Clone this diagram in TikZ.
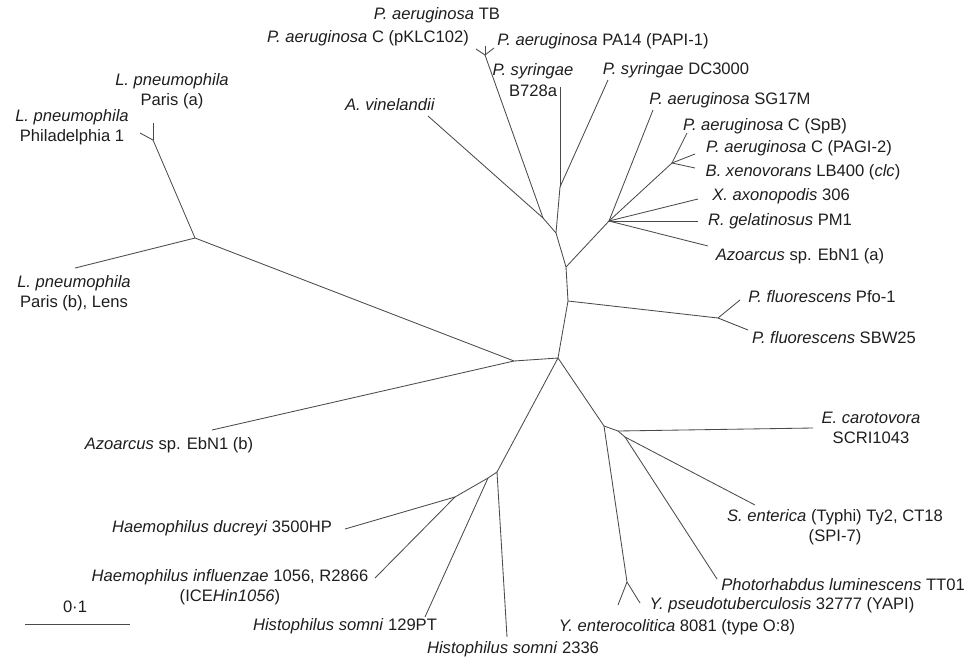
\documentclass[tikz,border=0pt]{standalone}
\usepackage{fontspec}
\setmainfont{Liberation Sans}
\usepackage{tikz}
\usetikzlibrary{positioning}
\definecolor{TreeInk}{HTML}{1E1E1E}
\definecolor{TreeLine}{HTML}{4A4A4A}

\begin{document}
\begin{tikzpicture}[
  x=0.025cm,y=-0.025cm,
  taxon/.style={text=TreeInk,align=center,inner sep=0pt,
    font=\fontsize{11.8}{14.6}\selectfont},
  branch/.style={draw=TreeLine,line width=0.6pt,line join=round}
]
\useasboundingbox (0,0) rectangle (967,659);

% inner nodes of the tree
\coordinate (jC) at (558,358);
\coordinate (jF) at (568,301);
\coordinate (jU) at (566,267);
\coordinate (jUL) at (556,233);
\coordinate (jS) at (560,187);
\coordinate (jAv) at (543,218);
\coordinate (jPa) at (485,55);
\coordinate (jR) at (609,221);
\coordinate (jSp) at (672,163);
\coordinate (jPf) at (718,318);
\coordinate (jLA) at (514,361);
\coordinate (jL) at (195,238);
\coordinate (jLa) at (153,140);
\coordinate (jE) at (604,426);
\coordinate (jE2) at (618,431);
\coordinate (jE3) at (625,437);
\coordinate (jY) at (627,582);
\coordinate (jH) at (497,472);
\coordinate (jH2) at (488,478);
\coordinate (jH3) at (455,497);

% tips
\coordinate (tPK) at (476,49);
\coordinate (tTB) at (485,46);
\coordinate (tPA) at (494,48);
\coordinate (tAv) at (428,116);
\coordinate (tB728) at (560,87);
\coordinate (tDC) at (608,80);
\coordinate (tSG) at (653,110);
\coordinate (tSp) at (687,133);
\coordinate (tPAGI) at (695,154);
\coordinate (tBx) at (695,168);
\coordinate (tXa) at (698,199);
\coordinate (tRg) at (698,221);
\coordinate (tAa) at (708,246);
\coordinate (tPfo) at (740,300);
\coordinate (tSBW) at (748,330);
\coordinate (tEc) at (813,428);
\coordinate (tSe) at (755,505);
\coordinate (tPl) at (717,579);
\coordinate (tYe) at (618,605);
\coordinate (tYp) at (640,603);
\coordinate (tHs2) at (507,637);
\coordinate (tHs1) at (425,617);
\coordinate (tHi) at (375,578);
\coordinate (tHd) at (345,529);
\coordinate (tAb) at (212,430);
\coordinate (tLb) at (75,268);
\coordinate (tLa) at (153,123);
\coordinate (tLp) at (140,133);
\coordinate (sb1) at (25,624);
\coordinate (sb2) at (130,624);

\draw[branch] (jH) -- (jC) -- (jF) -- (jU) -- (jUL) -- (jAv) -- (jPa);
\draw[branch] (jUL) -- (jS);
\draw[branch] (jU) -- (jR) -- (jSp);
\draw[branch] (jF) -- (jPf);
\draw[branch] (jC) -- (jLA) -- (jL) -- (jLa);
\draw[branch] (jC) -- (jE) -- (jE2) -- (jE3);
\draw[branch] (jE) -- (jY);
\draw[branch] (jH) -- (jH2) -- (jH3);

\draw[branch] (jPa) -- (tPK);
\draw[branch] (jPa) -- (tTB);
\draw[branch] (jPa) -- (tPA);
\draw[branch] (jAv) -- (tAv);
\draw[branch] (jS) -- (tB728);
\draw[branch] (jS) -- (tDC);
\draw[branch] (jR) -- (tSG);
\draw[branch] (jSp) -- (tSp);
\draw[branch] (jSp) -- (tPAGI);
\draw[branch] (jSp) -- (tBx);
\draw[branch] (jR) -- (tXa);
\draw[branch] (jR) -- (tRg);
\draw[branch] (jR) -- (tAa);
\draw[branch] (jPf) -- (tPfo);
\draw[branch] (jPf) -- (tSBW);
\draw[branch] (jE2) -- (tEc);
\draw[branch] (jE3) -- (tSe);
\draw[branch] (jE3) -- (tPl);
\draw[branch] (jY) -- (tYe);
\draw[branch] (jY) -- (tYp);
\draw[branch] (jH) -- (tHs2);
\draw[branch] (jH2) -- (tHs1);
\draw[branch] (jH3) -- (tHi);
\draw[branch] (jH3) -- (tHd);
\draw[branch] (jLA) -- (tAb);
\draw[branch] (jL) -- (tLb);
\draw[branch] (jLa) -- (tLa);
\draw[branch] (jLa) -- (tLp);
\draw[branch] (sb1) -- (sb2);

\node[taxon] (lTB) at (437,15) {\textit{P. aeruginosa} TB};
\node[taxon] (lPK) at (368,38) {\textit{P. aeruginosa} C (pKLC102)};
\node[taxon] (lPA) at (603,41) {\textit{P. aeruginosa} PA14 (PAPI-1)};
\node[taxon] (lB728) at (533,80) {\textit{P. syringae}\\B728a};
\node[taxon] (lDC) at (676,70) {\textit{P. syringae} DC3000};
\node[taxon] (lSG) at (730,100) {\textit{P. aeruginosa} SG17M};
\node[taxon] (lSp) at (765,126) {\textit{P. aeruginosa} C (SpB)};
\node[taxon] (lPAGI) at (799,148) {\textit{P. aeruginosa} C (PAGI-2)};
\node[taxon] (lBx) at (803,172) {\textit{B. xenovorans} LB400 (\textit{clc})};
\node[taxon] (lXa) at (781,196) {\textit{X. axonopodis} 306};
\node[taxon] (lRg) at (780,221) {\textit{R. gelatinosus} PM1};
\node[taxon] (lAa) at (800,256) {\textit{Azoarcus} sp. EbN1 (a)};
\node[taxon] (lPfo) at (822,297) {\textit{P. fluorescens} Pfo-1};
\node[taxon] (lSBW) at (834,338) {\textit{P. fluorescens} SBW25};
\node[taxon] (lEc) at (871,428) {\textit{E. carotovora}\\SCRI1043};
\node[taxon] (lSe) at (835,527) {\textit{S. enterica} (Typhi) Ty2, CT18\\(SPI-7)};
\node[taxon] (lPl) at (843,585) {\textit{Photorhabdus luminescens} TT01};
\node[taxon] (lYp) at (782,605) {\textit{Y. pseudotuberculosis} 32777 (YAPI)};
\node[taxon] (lYe) at (677,627) {\textit{Y. enterocolitica} 8081 (type O:8)};
\node[taxon] (lHs2) at (513,649) {\textit{Histophilus somni} 2336};
\node[taxon] (lHs1) at (345,626) {\textit{Histophilus somni} 129PT};
\node[taxon] (lHi) at (230,587) {\textit{Haemophilus influenzae} 1056, R2866\\(ICE\textit{Hin1056})};
\node[taxon] (lHd) at (222,528) {\textit{Haemophilus ducreyi} 3500HP};
\node[taxon] (lAb) at (169,445) {\textit{Azoarcus} sp. EbN1 (b)};
\node[taxon] (lLb) at (74,293) {\textit{L. pneumophila}\\Paris (b), Lens};
\node[taxon] (lLp) at (72,127) {\textit{L. pneumophila}\\Philadelphia 1};
\node[taxon] (lLa) at (172,91) {\textit{L. pneumophila}\\Paris (a)};
\node[taxon] (lAv) at (390,105) {\textit{A. vinelandii}};
\node[taxon] (lScale) at (75,607) {0·1};
\end{tikzpicture}
\end{document}
